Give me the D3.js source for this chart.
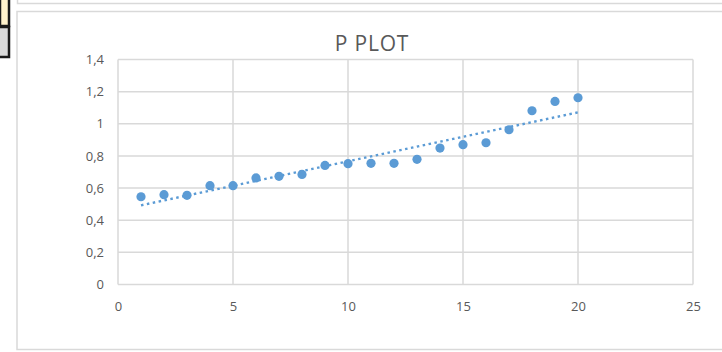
<!DOCTYPE html>
<html>
<head>
<meta charset="utf-8">
<script src="https://cdn.jsdelivr.net/npm/d3@7"></script>
<style>
  html, body { margin: 0; padding: 0; background: #fff; }
  svg { display: block; }
  text { font-family: "Open Sans", "Liberation Sans", sans-serif; fill: #595959; }
</style>
</head>
<body>
<svg id="chart" width="722" height="352"></svg>
<script>
// Observation index and measured P value
const xValues = [1, 2, 3, 4, 5, 6, 7, 8, 9, 10, 11, 12, 13, 14, 15, 16, 17, 18, 19, 20];
const pValues = [0.546, 0.559, 0.555, 0.615, 0.615, 0.663, 0.673, 0.685, 0.741, 0.752,
                 0.754, 0.754, 0.779, 0.849, 0.870, 0.882, 0.963, 1.081, 1.139, 1.162];
const xTicks = [0, 5, 10, 15, 20, 25];
const yTicks = [0, 0.2, 0.4, 0.6, 0.8, 1, 1.2, 1.4];
const title = "P PLOT";

const svg = d3.select("#chart");

// Surrounding sheet elements
svg.append("rect").attr("x", 0).attr("y", -2).attr("width", 9).attr("height", 28)
  .attr("fill", "#fff2cc").attr("stroke", "#1a1a1a").attr("stroke-width", 2.5);
svg.append("rect").attr("x", -2).attr("y", 27).attr("width", 11).attr("height", 30)
  .attr("fill", "#d9d9d9").attr("stroke", "#1a1a1a").attr("stroke-width", 2.5);
svg.append("rect").attr("x", 17.5).attr("y", -10).attr("width", 720).attr("height", 13.5)
  .attr("fill", "#fff").attr("stroke", "#d9d9d9").attr("stroke-width", 1.5);

// Chart frame
svg.append("rect").attr("x", 17).attr("y", 11.5).attr("width", 720).attr("height", 338)
  .attr("fill", "#fff").attr("stroke", "#d9d9d9").attr("stroke-width", 1.5);

const plot = { left: 118, right: 693, top: 59.5, bottom: 284.5 };

const x = d3.scaleLinear().domain([0, 25]).range([plot.left, plot.right]);
const y = d3.scaleLinear().domain([0, 1.4]).range([plot.bottom, plot.top]);

const commaLocale = d3.formatLocale({ decimal: ",", thousands: ".", grouping: [3], currency: ["", "€"] });
const fmtY = v => commaLocale.format("~g")(v);

// Gridlines
const grid = svg.append("g").attr("stroke", "#d9d9d9").attr("stroke-width", 1.5);
grid.selectAll("line.h").data(yTicks).join("line")
  .attr("x1", plot.left).attr("x2", plot.right)
  .attr("y1", d => y(d)).attr("y2", d => y(d));
grid.selectAll("line.v").data(xTicks).join("line")
  .attr("y1", plot.top).attr("y2", plot.bottom)
  .attr("x1", d => x(d)).attr("x2", d => x(d));

// Axes (labels only; lines are the gridlines)
const xAxis = svg.append("g").attr("transform", `translate(0,${plot.bottom})`)
  .call(d3.axisBottom(x).tickValues(xTicks).tickSize(0).tickPadding(17).tickFormat(d3.format("d")));
const yAxis = svg.append("g").attr("transform", `translate(${plot.left},0)`)
  .call(d3.axisLeft(y).tickValues(yTicks).tickSize(0).tickPadding(14).tickFormat(fmtY));
[xAxis, yAxis].forEach(a => {
  a.select(".domain").remove();
  a.selectAll("text").style("font-size", "13px").attr("fill", "#595959")
    .style("font-family", '"Open Sans", "Liberation Sans", sans-serif');
});

// Linear trendline (least squares)
const mx = d3.mean(xValues), my = d3.mean(pValues);
const sxy = d3.sum(xValues, (v, i) => (v - mx) * (pValues[i] - my));
const sxx = d3.sum(xValues, v => (v - mx) * (v - mx));
const slope = sxy / sxx, intercept = my - slope * mx;
const xMin = d3.min(xValues), xMax = d3.max(xValues);
svg.append("line")
  .attr("x1", x(xMin)).attr("y1", y(intercept + slope * xMin))
  .attr("x2", x(xMax)).attr("y2", y(intercept + slope * xMax))
  .attr("stroke", "#5b9bd5").attr("stroke-width", 2.5)
  .attr("stroke-dasharray", "2.5,3.5");

// Data points
svg.append("g").selectAll("circle").data(xValues).join("circle")
  .attr("cx", d => x(d)).attr("cy", (d, i) => y(pValues[i]))
  .attr("r", 4.6).attr("fill", "#5b9bd5");

// Title
svg.append("text").attr("x", 372).attr("y", 51).attr("text-anchor", "middle")
  .style("font-size", "21px").style("letter-spacing", "0.8px").text(title);
</script>
</body>
</html>
